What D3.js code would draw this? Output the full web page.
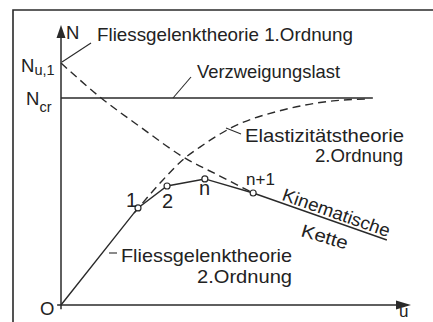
<!DOCTYPE html>
<html>
<head>
<meta charset="utf-8">
<script src="https://cdn.jsdelivr.net/npm/d3@7"></script>
<style>
  html, body { margin: 0; padding: 0; background: #fff; }
  svg { display: block; }
  text { font-family: "Liberation Sans", Arial, sans-serif; fill: #222; }
</style>
</head>
<body>
<svg id="chart" width="433" height="322"></svg>
<script>
// ---- data (u in arbitrary units, N normalised so that N_cr = 1) ----
const Nu1 = 1.169;
const Ncr = 1.0;
const ncrEnd = 8.91;

// solid load-deflection path (Fliessgelenktheorie 2. Ordnung + kinematische Kette)
const solidU = [0, 2.2, 3.03, 4.11, 5.49, 9.31];
const solidN = [0, 0.469, 0.575, 0.609, 0.541, 0.314];

// hinge points with labels
const hingeU = [2.2, 3.03, 4.11, 5.49];
const hingeN = [0.469, 0.575, 0.609, 0.541];
const hingeLabels = ["1", "2", "n", "n+1"];

// falling dashed curve (from N_u,1 down to n+1)
const fallU = [0, 1.11, 2.31, 3.49, 4.54, 5.49];
const fallN = [1.169, 1.005, 0.855, 0.715, 0.623, 0.541];

// rising dashed curve (Elastizitätstheorie 2. Ordnung)
const riseU = [2.09, 2.83, 3.54, 3.97, 4.91, 6.34, 7.77, 8.74];
const riseN = [0.444, 0.589, 0.710, 0.763, 0.860, 0.942, 0.986, 0.995];

// axis tick labels
const yTickLabels = [{main: "N", sub: "u,1", v: Nu1}, {main: "N", sub: "cr", v: Ncr}];

// ---- drawing ----
const svg = d3.select("#chart");
const ink = "#2a2a2a";
const x = d3.scaleLinear().domain([0, 10]).range([61, 411]);
const y = d3.scaleLinear().domain([0, 1]).range([305, 98]);

// frame (only top and left visible)
svg.append("path").attr("d", "M13,322V10H433")
  .attr("fill", "none").attr("stroke", ink).attr("stroke-width", 1.6);

// axes lines
svg.append("line").attr("x1", x(-0.11)).attr("x2", x(9.7))
  .attr("y1", y(0)).attr("y2", y(0)).attr("stroke", ink).attr("stroke-width", 1.5);
svg.append("line").attr("x1", x(0)).attr("x2", x(0))
  .attr("y1", y(-0.02)).attr("y2", y(1.30)).attr("stroke", ink).attr("stroke-width", 1.5);
// arrow heads
svg.append("path")
  .attr("d", `M${x(10)},${y(0)} L${x(10) - 15},${y(0) - 4.5} L${x(10) - 15},${y(0) + 4.5} Z`)
  .attr("fill", ink);
svg.append("path")
  .attr("d", `M${x(0)},${y(1.353)} L${x(0) - 4.5},${y(1.353) + 13} L${x(0) + 4.5},${y(1.353) + 13} Z`)
  .attr("fill", ink);

// axis labels
svg.append("text").attr("x", 66).attr("y", 38.5).attr("font-size", 18.5).text("N");
svg.append("text").attr("x", 399).attr("y", 317).attr("font-size", 17).text("u");
svg.append("text").attr("x", 40).attr("y", 314.5).attr("font-size", 18.5).text("O");

// y tick labels (N_u,1 and N_cr)
const subDy = [2.5, 7];
yTickLabels.forEach((t, i) => {
  const tx = svg.append("text").attr("x", i === 0 ? 21 : 26).attr("y", y(t.v) + (i === 0 ? 9 : 7))
    .attr("font-size", 18.5);
  tx.append("tspan").text(t.main);
  tx.append("tspan").attr("font-size", 14.5).attr("dy", subDy[i]).text(t.sub);
});

// N_cr horizontal line
svg.append("line").attr("x1", x(0)).attr("x2", x(ncrEnd))
  .attr("y1", y(Ncr)).attr("y2", y(Ncr)).attr("stroke", ink).attr("stroke-width", 1.4);

const lineGen = d3.line().x(d => x(d[0])).y(d => y(d[1]));
const curveGen = d3.line().x(d => x(d[0])).y(d => y(d[1])).curve(d3.curveMonotoneX);

// dashed curves
svg.append("path").datum(d3.zip(fallU, fallN)).attr("d", curveGen)
  .attr("fill", "none").attr("stroke", ink).attr("stroke-width", 1.4).attr("stroke-dasharray", "8,5");
svg.append("path").datum(d3.zip(riseU, riseN)).attr("d", curveGen)
  .attr("fill", "none").attr("stroke", ink).attr("stroke-width", 1.4).attr("stroke-dasharray", "8,5");

// solid path
svg.append("path").datum(d3.zip(solidU, solidN)).attr("d", lineGen)
  .attr("fill", "none").attr("stroke", ink).attr("stroke-width", 1.4);

// hinge circles
svg.selectAll("circle.h").data(d3.zip(hingeU, hingeN)).join("circle")
  .attr("cx", d => x(d[0])).attr("cy", d => y(d[1])).attr("r", 3)
  .attr("fill", "#fff").attr("stroke", ink).attr("stroke-width", 1.2);

// hinge labels
const hingeLabelPos = [[126, 207], [162, 208], [199, 195], [246, 185]];
hingeLabels.forEach((t, i) => {
  svg.append("text").attr("x", hingeLabelPos[i][0]).attr("y", hingeLabelPos[i][1])
    .attr("font-size", i === 3 ? 17 : 20).text(t);
});

// annotation leaders
function leader(x1, y1, x2, y2) {
  svg.append("line").attr("x1", x1).attr("y1", y1).attr("x2", x2).attr("y2", y2)
    .attr("stroke", ink).attr("stroke-width", 1.1);
}
leader(x(0) + 1, y(Nu1) - 1, 91, 43);
leader(173, y(Ncr), 191, 77);
leader(226, 128, 241, 134);
leader(109, 253, 117, 253);

// annotation texts
function label(t, x0, y0, w, fs) {
  svg.append("text").attr("x", x0).attr("y", y0).attr("font-size", fs || 18.5)
    .attr("textLength", w).attr("lengthAdjust", "spacingAndGlyphs").text(t);
}
label("Fliessgelenktheorie 1.Ordnung", 97, 41, 256);
label("Verzweigungslast", 197, 78, 143);
label("Elastizitätstheorie", 245, 142, 159);
label("2.Ordnung", 315, 162, 88);
label("Fliessgelenktheorie", 121, 262, 171);
label("2.Ordnung", 197, 283, 95);

// Kinematische Kette along the mechanism branch
const p0 = [x(solidU[4]), y(solidN[4])], p1 = [x(solidU[5]), y(solidN[5])];
const ang = Math.atan2(p1[1] - p0[1], p1[0] - p0[0]) * 180 / Math.PI;
const slope = (p1[1] - p0[1]) / (p1[0] - p0[0]);
const kx = 281, ky = p0[1] + (kx - p0[0]) * slope - 3;
svg.append("text").attr("transform", `translate(${kx},${ky}) rotate(${ang})`)
  .attr("font-size", 18).attr("textLength", 113).attr("lengthAdjust", "spacingAndGlyphs")
  .text("Kinematische");
svg.append("text").attr("transform", `translate(300,236) rotate(${ang - 3})`)
  .attr("font-size", 18).attr("textLength", 48).attr("lengthAdjust", "spacingAndGlyphs")
  .text("Kette");
</script>
</body>
</html>
